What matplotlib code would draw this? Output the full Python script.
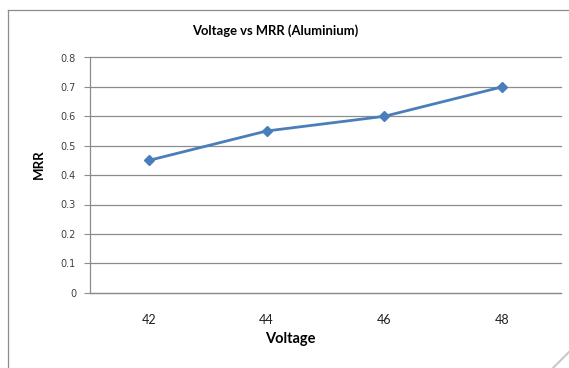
import numpy as np
import matplotlib
matplotlib.use('Agg')
import matplotlib.pyplot as plt
from matplotlib.lines import Line2D

voltage=['42','44','46','48']
mrr=[0.45,0.55,0.6,0.7]
y_ticks=[0,0.1,0.2,0.3,0.4,0.5,0.6,0.7,0.8]
y_labels=['0','0.1','0.2','0.3','0.4','0.5','0.6','0.7','0.8']

cal=['Lato','DejaVu Sans']

fig=plt.figure(figsize=(5.69,3.68),dpi=100)
ax=fig.add_axes([90/569,1-292.7/368,471/569,235.2/368])

x=np.arange(len(voltage))
ax.plot(x,mrr,color='#4a7ebb',linewidth=2.0,marker='D',markersize=5.5,zorder=3)

ax.set_xlim(-0.5,len(voltage)-0.5)
ax.set_ylim(0,0.8)
ax.set_yticks(y_ticks)
ax.set_yticklabels(y_labels,family='DejaVu Sans')
ax.set_xticks(x)
ax.set_xticklabels(voltage,family=cal)
ax.grid(axis='y',color='#8c8c8c',linewidth=0.9)
for gl in ax.get_ygridlines():
    gl.set_clip_on(False)
ax.set_axisbelow(True)
for s in ['top','right']:
    ax.spines[s].set_visible(False)
for s in ['left','bottom']:
    ax.spines[s].set_color('#8c8c8c')
    ax.spines[s].set_linewidth(0.9)
ax.tick_params(axis='y',length=4,color='#8c8c8c',labelsize=7,labelcolor='#404040',pad=6)
ax.tick_params(axis='x',length=0,labelsize=9,labelcolor='#202020',pad=15)

fig.text(290/569,1-339/368,'Voltage',ha='center',va='center',fontsize=10.5,fontweight='bold',family=cal)
fig.text(39/569,1-164/368,'MRR',ha='center',va='center',rotation=90,fontsize=9.5,fontweight='bold',family=cal)
fig.text(275.5/569,1-31/368,'Voltage vs MRR (Aluminium)',ha='center',va='center',fontsize=9.4,fontweight='bold',family=cal)

# chart frame
fig.add_artist(Line2D([8/569,8/569],[0,1-10/368],color='#8c8c8c',linewidth=0.9,transform=fig.transFigure))
fig.add_artist(Line2D([8/569,1],[1-10/368,1-10/368],color='#8c8c8c',linewidth=0.9,transform=fig.transFigure))
fig.add_artist(Line2D([553/569,569/569],[0,16/368],color='#c8c8c8',linewidth=1.5,transform=fig.transFigure))

plt.savefig('out.png',dpi=100)
